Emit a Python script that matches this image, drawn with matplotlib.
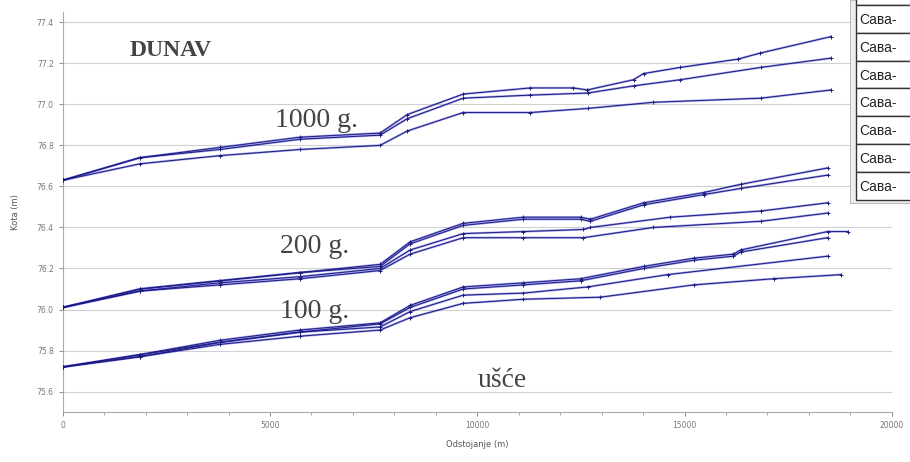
import matplotlib
matplotlib.use("Agg")
import matplotlib.pyplot as plt
from matplotlib.patches import Rectangle
from matplotlib.ticker import MultipleLocator

# podaci: odstojanje (m) i kota (m) za svaki profil
d_1000_a = [0, 1860, 3790, 5725, 7655, 8310, 9660, 11280, 12320, 12650, 13770, 14010, 14900, 16280, 16830, 18530]
k_1000_a = [76.63, 76.74, 76.79, 76.84, 76.86, 76.95, 77.05, 77.08, 77.08, 77.07, 77.12, 77.15, 77.18, 77.22, 77.25, 77.33]
d_1000_b = [0, 1860, 3790, 5725, 7655, 8310, 9660, 11280, 12660, 13770, 14900, 16840, 18530]
k_1000_b = [76.63, 76.74, 76.78, 76.83, 76.85, 76.93, 77.03, 77.045, 77.055, 77.09, 77.12, 77.18, 77.225]
d_1000_c = [0, 1860, 3790, 5725, 7655, 8310, 9660, 11280, 12660, 14250, 16840, 18530]
k_1000_c = [76.63, 76.71, 76.75, 76.78, 76.80, 76.87, 76.96, 76.96, 76.98, 77.01, 77.03, 77.07]

d_200_a = [0, 1860, 3790, 5725, 7655, 8380, 9660, 11110, 12490, 12730, 14010, 15460, 16350, 18450]
k_200_a = [76.01, 76.10, 76.14, 76.18, 76.22, 76.33, 76.42, 76.45, 76.45, 76.44, 76.52, 76.57, 76.61, 76.69]
d_200_b = [0, 1860, 3790, 5725, 7655, 8380, 9660, 11110, 12490, 12730, 14010, 15460, 16350, 18450]
k_200_b = [76.01, 76.10, 76.14, 76.18, 76.21, 76.32, 76.41, 76.44, 76.44, 76.43, 76.51, 76.56, 76.59, 76.655]
d_200_c = [0, 1860, 3790, 5725, 7655, 8380, 9660, 11110, 12560, 12730, 14660, 16840, 18450]
k_200_c = [76.01, 76.09, 76.13, 76.16, 76.20, 76.29, 76.37, 76.38, 76.39, 76.40, 76.45, 76.48, 76.52]
d_200_d = [0, 1860, 3790, 5725, 7655, 8380, 9660, 11110, 12560, 14250, 16840, 18450]
k_200_d = [76.01, 76.09, 76.12, 76.15, 76.19, 76.27, 76.35, 76.35, 76.35, 76.40, 76.43, 76.47]

d_100_a = [0, 1860, 3790, 5725, 7655, 8380, 9660, 11110, 12490, 14010, 15220, 16180, 16350, 18450, 18940]
k_100_a = [75.72, 75.78, 75.85, 75.90, 75.935, 76.02, 76.11, 76.13, 76.15, 76.21, 76.25, 76.27, 76.29, 76.38, 76.38]
d_100_b = [0, 1860, 3790, 5725, 7655, 8380, 9660, 11110, 12490, 14010, 15220, 16180, 16350, 18450]
k_100_b = [75.72, 75.78, 75.84, 75.89, 75.93, 76.01, 76.10, 76.12, 76.14, 76.20, 76.24, 76.26, 76.28, 76.35]
d_100_c = [0, 1860, 3790, 5725, 7655, 8380, 9660, 11110, 12660, 14590, 18450]
k_100_c = [75.72, 75.77, 75.84, 75.89, 75.915, 75.99, 76.07, 76.08, 76.11, 76.17, 76.26]
d_100_d = [0, 1860, 3790, 5725, 7655, 8380, 9660, 11110, 12970, 15220, 17150, 18770]
k_100_d = [75.72, 75.77, 75.83, 75.87, 75.90, 75.96, 76.03, 76.05, 76.06, 76.12, 76.15, 76.17]

serije = [(d_1000_a, k_1000_a), (d_1000_b, k_1000_b), (d_1000_c, k_1000_c),
          (d_200_a, k_200_a), (d_200_b, k_200_b), (d_200_c, k_200_c), (d_200_d, k_200_d),
          (d_100_a, k_100_a), (d_100_b, k_100_b), (d_100_c, k_100_c), (d_100_d, k_100_d)]

y_ticks = [75.6, 75.8, 76.0, 76.2, 76.4, 76.6, 76.8, 77.0, 77.2, 77.4]
x_ticks = [0, 5000, 10000, 15000, 20000]
legenda = ["Сава-"] * 7

fig = plt.figure(figsize=(9.1, 4.62), dpi=100)
ax = fig.add_axes([0.069, 0.108, 0.911, 0.866])

for d, k in serije:
    ax.plot(d, k, color="#3434e0", lw=1.6, alpha=0.45, zorder=3)
    ax.plot(d, k, color="#1c1c78", lw=0.7, marker="+", ms=3, mew=0.7, zorder=4)

ax.set_xlim(0, 20000)
ax.set_ylim(75.5, 77.45)
ax.set_yticks(y_ticks)
ax.set_yticklabels(["%.1f" % v for v in y_ticks])
ax.set_xticks(x_ticks)
ax.xaxis.set_minor_locator(MultipleLocator(1000))
ax.tick_params(axis="both", labelsize=5.5, colors="#777777", length=3, width=0.6)
ax.tick_params(axis="x", which="minor", length=2, color="#999999")
ax.grid(axis="y", color="#d0d0d0", lw=0.8)
ax.set_axisbelow(True)
for s in ["top", "right"]:
    ax.spines[s].set_visible(False)
for s in ["left", "bottom"]:
    ax.spines[s].set_color("#aaaaaa")
    ax.spines[s].set_linewidth(0.8)

ax.set_xlabel("Odstojanje (m)", fontsize=6, color="#555555", labelpad=7)
ax.set_ylabel("Kota (m)", fontsize=6, color="#555555", labelpad=12)

tekst = dict(family="Liberation Serif", color="#444444")
ax.text(1600, 77.235, "DUNAV", fontsize=17, fontweight="bold", **tekst)
ax.text(5130, 76.89, "1000 g.", fontsize=20, **tekst)
ax.text(5230, 76.276, "200 g.", fontsize=20, **tekst)
ax.text(5230, 75.96, "100 g.", fontsize=20, **tekst)
ax.text(10020, 75.62, "ušće", fontsize=20, **tekst)

# legenda u obliku tabele, odsecena desnom ivicom
W, H = 910.0, 462.0
x0 = 856
row_h = 27.8
fig.patches.append(Rectangle((850 / W, 1 - 203 / H), 70 / W, 203 / H, transform=fig.transFigure,
                             facecolor="#eeeeee", edgecolor="#bbbbbb", lw=0.8, zorder=5))
fig.patches.append(Rectangle((x0 / W, 1 - 5 / H), 60 / W, 10 / H, transform=fig.transFigure,
                             facecolor="white", edgecolor="#333333", lw=1.0, zorder=6))
for i, lab in enumerate(legenda):
    top = 5 + i * row_h
    fig.patches.append(Rectangle((x0 / W, 1 - (top + row_h) / H), 60 / W, row_h / H,
                                 transform=fig.transFigure, facecolor="white",
                                 edgecolor="#333333", lw=1.0, zorder=6))
    fig.text((x0 + 3) / W, 1 - (top + row_h / 2 + 1) / H, lab, fontsize=10,
             family="Liberation Sans", color="#222222", va="center", ha="left", zorder=7)

fig.savefig("out.png", dpi=100)
